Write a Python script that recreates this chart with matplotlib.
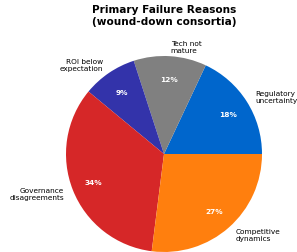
import matplotlib
matplotlib.use("Agg")
import matplotlib.pyplot as plt

labels = ["Regulatory\nuncertainty", "Tech not\nmature", "ROI below\nexpectation",
          "Governance\ndisagreements", "Competitive\ndynamics"]
values = [18, 12, 9, 34, 27]
colors = ["#0066CC", "#808080", "#3333AA", "#D62728", "#FF7F0E"]

fig = plt.figure(figsize=(2.97, 2.53), dpi=100)
ax = fig.add_axes([66/297, 0.0, 196/297, 196/253])
wedges, texts, autotexts = ax.pie(values, labels=labels, colors=colors, startangle=0,
                                  autopct="%d%%", pctdistance=0.77, labeldistance=1.1,
                                  textprops=dict(fontsize=5.3))
for t in autotexts:
    t.set_color("white")
    t.set_fontweight("bold")
    t.set_fontsize(5.3)
ax.set_xlim(-1, 1)
ax.set_ylim(-1, 1)
ax.set_aspect("equal")
fig.text(164/297, 1 - 5/253, "Primary Failure Reasons\n(wound-down consortia)",
         ha="center", va="top", fontsize=7.6, fontweight="bold")
fig.savefig("out.png", dpi=100)
